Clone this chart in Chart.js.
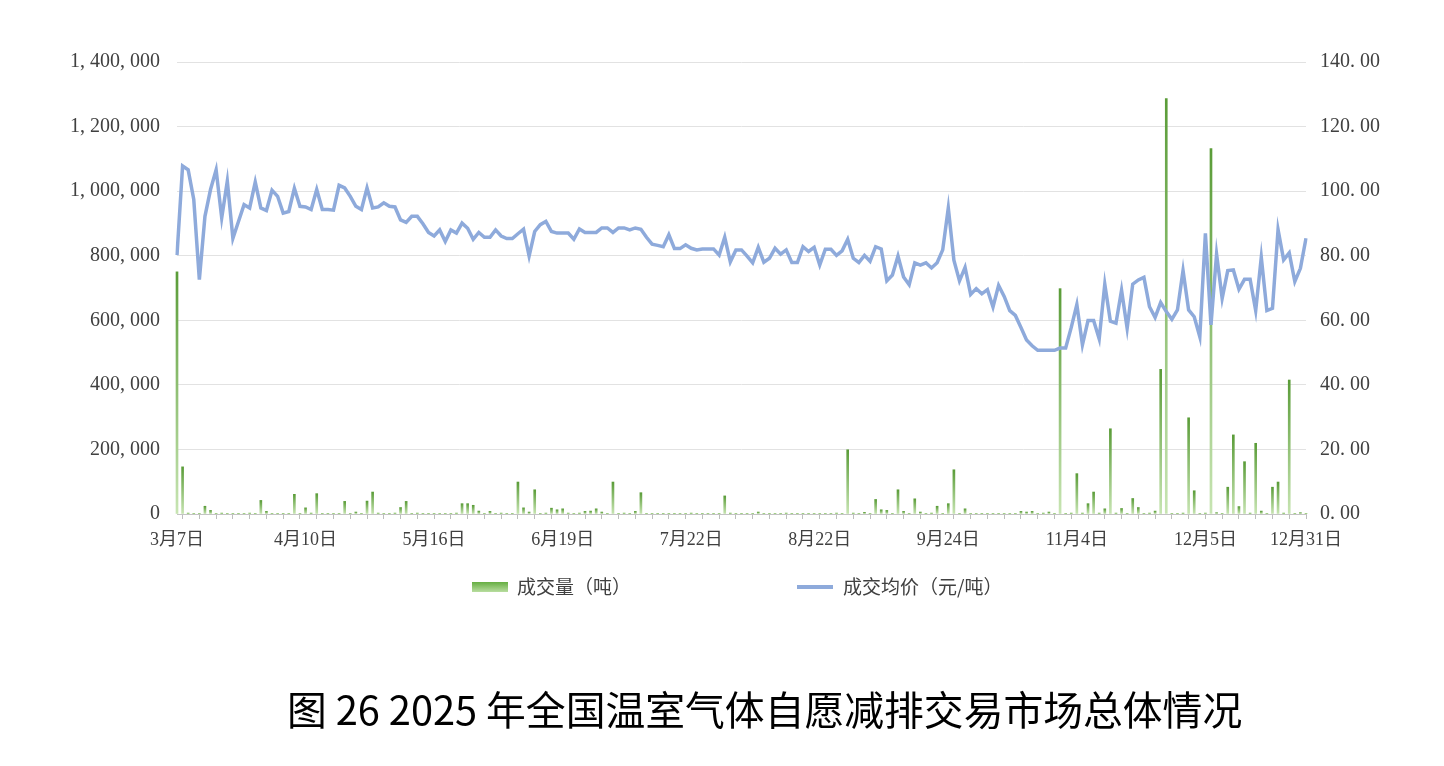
<!DOCTYPE html>
<html><head><meta charset="utf-8">
<script src="https://cdn.jsdelivr.net/npm/chart.js@4.4.1/dist/chart.umd.min.js"></script>
<style>
html,body{margin:0;padding:0;background:#fff;}
#wrap{position:relative;width:1444px;height:766px;overflow:hidden;}
#c{position:absolute;left:0;top:0;}
#title{position:absolute;left:287px;top:684px;font-family:"Noto Sans CJK SC";font-size:39.8px;line-height:48px;color:#000;white-space:nowrap;}
</style></head><body>
<div id="wrap"><canvas id="c" width="1444" height="766"></canvas><div id="title">图 26 2025 年全国温室气体自愿减排交易市场总体情况</div></div>
<script>
const categories = [
"3月7日","3月10日","3月11日","3月12日","3月13日","3月14日","3月17日","3月18日","3月19日","3月20日","3月21日","3月24日","3月25日","3月26日","3月27日","3月28日","3月31日",
"4月1日","4月2日","4月3日","4月7日","4月8日","4月9日","4月10日","4月11日","4月14日","4月15日","4月16日","4月17日","4月18日","4月21日","4月22日","4月23日","4月24日","4月25日","4月28日","4月29日","4月30日",
"5月6日","5月7日","5月8日","5月9日","5月12日","5月13日","5月14日","5月15日","5月16日","5月19日","5月20日","5月21日","5月22日","5月23日","5月26日","5月27日","5月28日","5月29日","5月30日",
"6月3日","6月4日","6月5日","6月6日","6月9日","6月10日","6月11日","6月12日","6月13日","6月16日","6月17日","6月18日","6月19日","6月20日","6月23日","6月24日","6月25日","6月26日","6月27日","6月30日",
"7月1日","7月2日","7月3日","7月4日","7月7日","7月8日","7月9日","7月10日","7月11日","7月14日","7月15日","7月16日","7月17日","7月18日","7月21日","7月22日","7月23日","7月24日","7月25日","7月28日","7月29日","7月30日","7月31日",
"8月1日","8月4日","8月5日","8月6日","8月7日","8月8日","8月11日","8月12日","8月13日","8月14日","8月15日","8月18日","8月19日","8月20日","8月21日","8月22日","8月25日","8月26日","8月27日","8月28日","8月29日",
"9月1日","9月2日","9月3日","9月4日","9月5日","9月8日","9月9日","9月10日","9月11日","9月12日","9月15日","9月16日","9月17日","9月18日","9月19日","9月22日","9月23日","9月24日","9月25日","9月26日","9月29日","9月30日",
"10月9日","10月10日","10月13日","10月14日","10月15日","10月16日","10月17日","10月20日","10月21日","10月22日","10月23日","10月24日","10月27日","10月28日","10月29日","10月30日","10月31日",
"11月3日","11月4日","11月5日","11月6日","11月7日","11月10日","11月11日","11月12日","11月13日","11月14日","11月17日","11月18日","11月19日","11月20日","11月21日","11月24日","11月25日","11月26日","11月27日","11月28日",
"12月1日","12月2日","12月3日","12月4日","12月5日","12月8日","12月9日","12月10日","12月11日","12月12日","12月15日","12月16日","12月17日","12月18日","12月19日","12月22日","12月23日","12月24日","12月25日","12月26日","12月29日","12月30日","12月31日"
];

// 成交量（吨）
const volume = [
750000,146000,3000,2000,2000,24000,11000,2000,3000,2000,
2000,1000,2000,3000,2000,42000,8000,2000,2000,1000,
2000,61000,2000,19000,3000,63000,2000,1000,2000,2000,
39000,2000,6000,2000,40000,68000,3000,2000,2000,3000,
20000,39000,2000,3000,2000,2000,1000,2000,2000,2000,
3000,32000,32000,27000,9000,2000,8000,2000,3000,2000,
2000,99000,19000,6000,75000,2000,3000,18000,13000,16000,
3000,2000,3000,8000,9000,16000,6000,2000,99000,2000,
3000,2000,8000,66000,2000,2000,1000,2000,2000,1000,
2000,2000,3000,2000,1000,2000,2000,2000,56000,3000,
2000,2000,2000,2000,6000,2000,1000,2000,2000,3000,
2000,2000,1000,2000,2000,2000,2000,2000,3000,2000,
199000,3000,2000,5000,2000,45000,13000,11000,2000,75000,
8000,2000,47000,6000,2000,3000,24000,2000,32000,137000,
2000,16000,2000,2000,1000,2000,2000,2000,2000,2000,
2000,8000,6000,8000,2000,3000,6000,2000,698000,2000,
3000,125000,3000,32000,68000,3000,16000,264000,3000,17000,
2000,48000,20000,2000,3000,9000,448000,1287000,2000,2000,
3000,298000,72000,2000,3000,1132000,4000,2000,83000,245000,
23000,162000,3000,219000,9000,2000,83000,99000,3000,415000,
2000,4000,2000
];

// 成交均价（元/吨）
const avgPrice = [
80.2,107.8,106.6,97.4,72.6,92.2,100.5,106.6,91.7,103.1,
85.4,90.6,95.8,94.8,102.8,94.8,94.0,100.3,98.4,93.2,
93.7,100.9,95.3,95.1,94.3,100.5,94.3,94.3,94.1,101.8,
101.0,98.4,95.3,94.3,101.0,94.8,95.1,96.4,95.3,95.1,
91.1,90.3,92.2,92.2,89.9,87.2,86.1,88.0,84.4,88.0,
87.0,90.1,88.5,85.1,87.2,85.7,85.7,88.0,86.1,85.3,
85.3,86.8,88.2,79.9,87.5,89.6,90.6,87.5,87.0,87.0,
87.0,85.1,88.3,87.2,87.2,87.2,88.6,88.6,87.2,88.6,
88.6,88.0,88.6,88.2,85.7,83.6,83.2,82.8,86.5,82.2,
82.2,83.4,82.3,81.8,82.1,82.1,82.1,80.2,85.7,78.1,
81.8,81.8,79.9,77.8,82.6,78.0,79.2,82.3,80.5,81.8,
77.9,77.9,82.8,81.3,82.6,77.1,82.0,82.0,80.1,81.5,
85.1,79.2,77.9,80.1,78.3,82.8,82.1,72.2,74.0,79.9,
73.4,71.0,77.8,77.1,77.8,76.2,77.8,81.8,94.8,78.6,
72.2,76.4,68.0,69.8,68.2,69.5,64.1,70.8,67.4,63.0,
61.5,57.8,53.9,52.1,50.7,50.7,50.7,50.7,51.4,51.4,
57.8,64.9,52.4,59.9,59.9,54.2,71.2,59.7,59.1,69.3,
57.5,71.2,72.5,73.3,64.2,60.9,65.5,62.7,60.3,63.2,
75.4,63.2,61.1,54.9,86.9,58.6,80.5,66.8,75.4,75.6,
69.6,72.7,72.7,63.0,79.5,63.0,63.7,88.1,78.7,80.9,
72.0,76.1,85.4
];

const tickLabels = ["3月7日","4月10日","5月16日","6月19日","7月22日","8月22日","9月24日","11月4日","12月5日","12月31日"];
const seriesNames = ["成交量（吨）","成交均价（元/吨）"];

const volumeAxis = {min: 0, max: 1400000, step: 200000};
const priceAxis = {min: 0, max: 140, step: 20};

const BAR_TOP = '#5a9c38', BAR_BOTTOM = '#c8e5b3', LINE_COLOR = '#8eaadb';

function barGradient(c) {
  const chart = c.chart;
  if (!chart.chartArea || c.type !== 'data') return '#7cb85a';
  const ys = chart.scales.y;
  const top = ys.getPixelForValue(c.raw);
  const bottom = ys.getPixelForValue(0);
  if (!(bottom - top > 1)) return '#8cc46c';
  const g = chart.ctx.createLinearGradient(0, top, 0, bottom);
  g.addColorStop(0, BAR_TOP);
  g.addColorStop(1, BAR_BOTTOM);
  return g;
}

const customLegend = {
  id: 'customLegend',
  afterDraw(chart) {
    const ctx = chart.ctx;
    ctx.save();
    const g = ctx.createLinearGradient(0, 582, 0, 592);
    g.addColorStop(0, '#66ae42');
    g.addColorStop(1, '#b8dd9f');
    ctx.fillStyle = g;
    ctx.fillRect(472, 582, 36, 10);
    ctx.strokeStyle = LINE_COLOR;
    ctx.lineWidth = 4;
    ctx.beginPath();
    ctx.moveTo(797, 587);
    ctx.lineTo(833, 587);
    ctx.stroke();
    ctx.font = '19px "Noto Sans CJK SC"';
    ctx.fillStyle = '#404040';
    ctx.textBaseline = 'middle';
    ctx.textAlign = 'left';
    ctx.fillText(chart.data.datasets[0].label, 517, 587);
    ctx.fillText(chart.data.datasets[1].label, 843, 587);
    ctx.restore();
  }
};

new Chart(document.getElementById('c'), {
  type: 'bar',
  data: {
    labels: categories,
    datasets: [
      {
        type: 'bar',
        label: seriesNames[0],
        data: volume,
        yAxisID: 'y',
        backgroundColor: barGradient,
        barThickness: 2,
        clip: {left: 3, right: 3, top: 0, bottom: 0},
        order: 2
      },
      {
        type: 'line',
        label: seriesNames[1],
        data: avgPrice,
        yAxisID: 'y1',
        borderColor: LINE_COLOR,
        backgroundColor: LINE_COLOR,
        borderWidth: 3.5,
        pointRadius: 0,
        tension: 0,
        order: 1
      }
    ]
  },
  options: {
    responsive: false,
    animation: false,
    layout: {padding: {top: 62, bottom: 197, left: 0, right: 0}},
    plugins: {legend: {display: false}, tooltip: {enabled: false}, title: {display: false}},
    scales: {
      x: {
        type: 'category',
        offset: false,
        grid: {
          display: true,
          drawOnChartArea: false,
          drawTicks: true,
          tickLength: 5,
          offset: false,
          color: (c) => (c.index % 3 === 1 ? '#bdbdbd' : 'rgba(0,0,0,0)')
        },
        border: {display: true, color: '#c4c4c4', width: 1},
        ticks: {
          autoSkip: false,
          maxRotation: 0,
          minRotation: 0,
          padding: 10,
          color: '#404040',
          font: {family: '"Liberation Serif", "Noto Sans CJK SC"', size: 18},
          callback: function (v, i) {
            const lab = categories[i];
            return tickLabels.includes(lab) ? lab : '';
          }
        },
        afterFit: (s) => { s.height = 55; }
      },
      y: {
        position: 'left',
        min: volumeAxis.min, max: volumeAxis.max,
        grid: {color: '#e2e2e2', drawTicks: false},
        border: {display: false},
        ticks: {
          stepSize: volumeAxis.step,
          padding: 17,
          color: '#404040',
          font: {family: '"Liberation Serif"', size: 20},
          callback: (v) => Number(v).toLocaleString('en-US').replace(/,/g, ', ')
        },
        afterFit: (s) => { s.width = 177; }
      },
      y1: {
        position: 'right',
        min: priceAxis.min, max: priceAxis.max,
        grid: {display: false, drawTicks: false},
        border: {display: false},
        ticks: {
          stepSize: priceAxis.step,
          padding: 14,
          color: '#404040',
          font: {family: '"Liberation Serif"', size: 20},
          callback: (v) => Number(v).toFixed(2).replace('.', '. ')
        },
        afterFit: (s) => { s.width = 138; }
      }
    }
  },
  plugins: [customLegend]
});
</script>
</body></html>
